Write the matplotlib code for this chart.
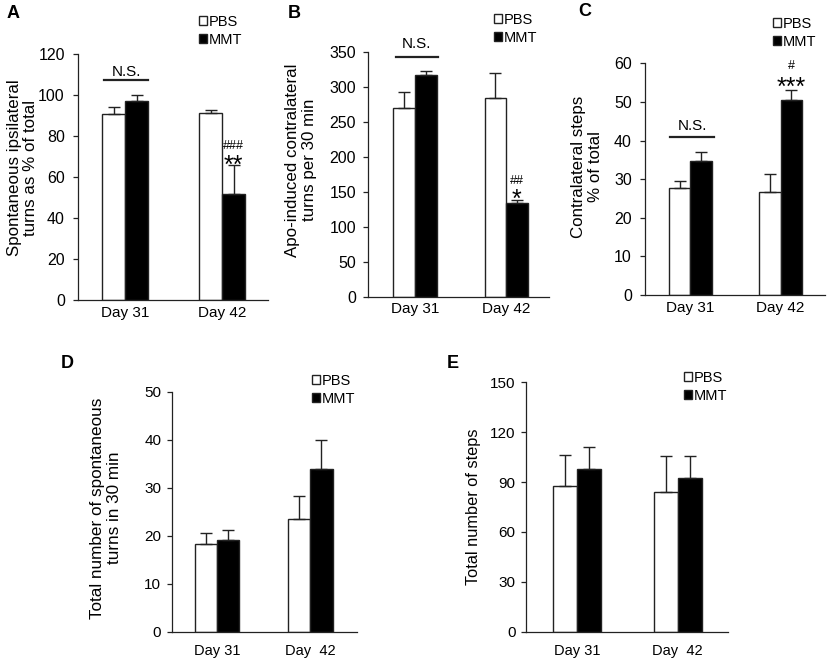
import matplotlib
matplotlib.use("Agg")
import matplotlib.pyplot as plt
from matplotlib.patches import Patch

plt.rcParams["font.family"] = ["Liberation Sans", "DejaVu Sans"]

# ── data (mean, upper error) per panel ─────────────────────────────────────
days_top = ["Day 31", "Day 42"]
days_bottom = ["Day 31", "Day  42"]

a_pbs = [90.5, 91.4]
a_pbs_err = [3.5, 1.5]
a_mmt = [97.3, 51.8]
a_mmt_err = [2.8, 14.0]

b_pbs = [269, 284]
b_pbs_err = [23, 36]
b_mmt = [316, 134]
b_mmt_err = [6, 4]

c_pbs = [27.7, 26.7]
c_pbs_err = [1.7, 4.6]
c_mmt = [34.8, 50.5]
c_mmt_err = [2.3, 2.6]

d_pbs = [18.2, 23.5]
d_pbs_err = [2.4, 4.8]
d_mmt = [19.2, 33.8]
d_mmt_err = [1.9, 6.1]

e_pbs = [87.5, 84.0]
e_pbs_err = [18.5, 21.5]
e_mmt = [98.0, 92.5]
e_mmt_err = [13.0, 13.0]

W, H = 829, 663
LINE = "#222222"
BW = 0.237


def px_axes(fig, left, right, top, bottom):
    return fig.add_axes([left / W, (H - bottom) / H, (right - left) / W, (bottom - top) / H])


def bar_panel(ax, pbs, pbs_err, mmt, mmt_err, days, ylim, yticks, xlim,
              ylabel, label_xy, tick_fs, day_fs, day_pad, tick_pad=5,
              label_fs=12.2):
    x = [0, 1]
    xp = [i - BW / 2 for i in x]
    xm = [i + BW / 2 for i in x]
    ekw = dict(ecolor=LINE, elinewidth=1.0, capsize=4, capthick=1.0)
    ax.bar(xp, pbs, BW, color="white", edgecolor=LINE, linewidth=1.0,
           yerr=[[0, 0], pbs_err], error_kw=ekw, zorder=2)
    ax.bar(xm, mmt, BW, color="black", edgecolor=LINE, linewidth=1.0,
           yerr=[[0, 0], mmt_err], error_kw=ekw, zorder=2)
    ax.set_xlim(*xlim)
    ax.set_ylim(*ylim)
    ax.set_yticks(yticks)
    ax.set_xticks(x)
    ax.set_xticklabels(days, fontsize=day_fs)
    ax.tick_params(axis="x", length=0, pad=day_pad)
    ax.tick_params(axis="y", length=3.5, width=0.9, color=LINE,
                   labelsize=tick_fs, pad=tick_pad)
    for s in ("top", "right"):
        ax.spines[s].set_visible(False)
    for s in ("left", "bottom"):
        ax.spines[s].set_color(LINE)
        ax.spines[s].set_linewidth(0.9)
    ax.set_ylabel(ylabel, fontsize=label_fs, va="center",
                  multialignment="center", linespacing=1.15)
    ax.yaxis.set_label_coords(*label_xy, transform=ax.figure.transFigure)


def legend(ax, anchor, fs=10.5):
    handles = [Patch(facecolor="white", edgecolor=LINE, linewidth=1.0),
               Patch(facecolor="black", edgecolor=LINE, linewidth=1.0)]
    ax.legend(handles, ["PBS", "MMT"], loc="upper left",
              bbox_to_anchor=anchor, bbox_transform=ax.figure.transFigure,
              frameon=False, fontsize=fs, handlelength=0.55, handleheight=0.55,
              handletextpad=0.15, labelspacing=0.25, borderpad=0,
              borderaxespad=0)


def fpos(px, py):
    return px / W, (H - py) / H


def mark(ax, x, y, s, fs):
    ax.text(x, y, s, ha="center", va="baseline", fontsize=fs, clip_on=False)


fig = plt.figure(figsize=(W / 100, H / 100), dpi=100)

# ── A ─────────────────────────────────────────────────────────────────────
ax_a = px_axes(fig, 78, 268, 54, 300)
bar_panel(ax_a, a_pbs, a_pbs_err, a_mmt, a_mmt_err, days_top, (0, 120),
          range(0, 121, 20), (-0.485, 1.474),
          "Spontaneous ipsilateral\nturns as % of total", fpos(22.5, 168),
          11.5, 11, 4, tick_pad=6)
ax_a.plot([-0.22, 0.24], [107.3, 107.3], color=LINE, lw=1.6, clip_on=False)
mark(ax_a, 0.01, 109.5, "N.S.", 11)
mark(ax_a, 1 + BW / 2, 73.9, "###", 9)
mark(ax_a, 1 + BW / 2, 62.0, "**", 18)
legend(ax_a, fpos(199, 15))

# ── B ─────────────────────────────────────────────────────────────────────
ax_b = px_axes(fig, 368, 549, 51.7, 296.7)
bar_panel(ax_b, b_pbs, b_pbs_err, b_mmt, b_mmt_err, days_top, (0, 350),
          range(0, 351, 50), (-0.516, 1.47),
          "Apo-induced contralateral\nturns per 30 min", fpos(301, 160),
          11.5, 11, 4, tick_pad=5)
ax_b.plot([-0.21, 0.25], [342.9, 342.9], color=LINE, lw=1.6, clip_on=False)
mark(ax_b, 0.02, 354.9, "N.S.", 11)
mark(ax_b, 1 + BW / 2, 161.7, "##", 9)
mark(ax_b, 1 + BW / 2, 129.0, "*", 18)
legend(ax_b, fpos(494, 13))

# ── C ─────────────────────────────────────────────────────────────────────
ax_c = px_axes(fig, 645, 825, 63.3, 295)
bar_panel(ax_c, c_pbs, c_pbs_err, c_mmt, c_mmt_err, days_top, (0, 60),
          range(0, 61, 10), (-0.5, 1.49),
          "Contralateral steps\n% of total", fpos(587, 167),
          11.5, 11, 4, tick_pad=6)
ax_c.plot([-0.22, 0.26], [41.0, 41.0], color=LINE, lw=1.6, clip_on=False)
mark(ax_c, 0.02, 42.7, "N.S.", 11)
mark(ax_c, 1 + BW / 2, 58.6, "#", 9)
mark(ax_c, 1 + BW / 2, 51.7, "***", 18)
legend(ax_c, fpos(773, 17))

# ── D ─────────────────────────────────────────────────────────────────────
ax_d = px_axes(fig, 171.7, 357, 391.7, 631.7)
bar_panel(ax_d, d_pbs, d_pbs_err, d_mmt, d_mmt_err, days_bottom, (0, 50),
          range(0, 51, 10), (-0.49, 1.50),
          "Total number of spontaneous\nturns in 30 min", fpos(106, 508),
          11, 10.5, 9, tick_pad=4, label_fs=12.3)
legend(ax_d, fpos(312, 374), fs=10.5)

# ── E ─────────────────────────────────────────────────────────────────────
ax_e = px_axes(fig, 526, 728, 382.3, 631.7)
bar_panel(ax_e, e_pbs, e_pbs_err, e_mmt, e_mmt_err, days_bottom, (0, 150),
          range(0, 151, 30), (-0.507, 1.5),
          "Total number of steps", fpos(473.5, 507),
          11, 10.5, 9, tick_pad=4, label_fs=11.8)
legend(ax_e, fpos(684, 371), fs=10.5)

# ── panel letters ─────────────────────────────────────────────────────────
for letter, (px, py) in {"A": (13, 13), "B": (294, 13), "C": (585, 12),
                         "D": (67, 363), "E": (453, 363)}.items():
    fig.text(*fpos(px, py), letter, fontsize=13, fontweight="bold",
             ha="center", va="center")

fig.savefig("out.png", dpi=100)
